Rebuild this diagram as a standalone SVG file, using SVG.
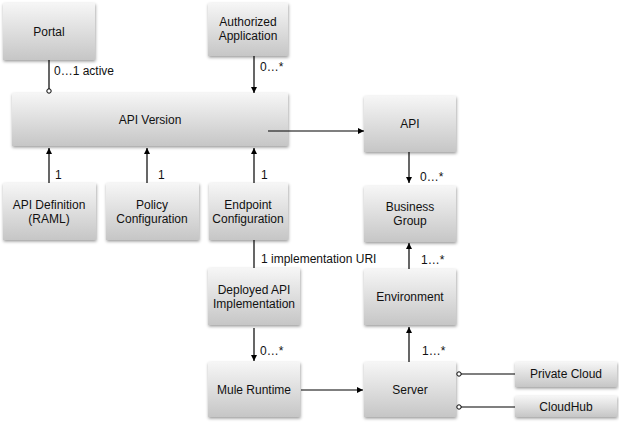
<svg xmlns="http://www.w3.org/2000/svg" width="619" height="429" viewBox="0 0 619 429">
<style>
.box{fill:url(#g);filter:url(#sh)}
.t{font-family:"Liberation Sans",Arial,sans-serif;font-size:12px;fill:#111;text-anchor:middle}
.l{font-family:"Liberation Sans",Arial,sans-serif;font-size:12px;fill:#111}
.c{stroke:#000;stroke-width:1.2;fill:none}
.ar{marker-end:url(#a)}
.ci{fill:#fff;stroke:#000;stroke-width:1}
</style>
<defs>
<linearGradient id="g" x1="0" y1="0" x2="0" y2="1">
<stop offset="0" stop-color="#f6f6f6"/>
<stop offset="1" stop-color="#c6c6c6"/>
</linearGradient>
<filter id="sh" x="-10%" y="-10%" width="125%" height="130%">
<feDropShadow dx="0.5" dy="1.5" stdDeviation="1.5" flood-color="#000" flood-opacity="0.4"/>
</filter>
<marker id="a" viewBox="0 0 8 8" refX="8" refY="4" markerWidth="6" markerHeight="6" markerUnits="userSpaceOnUse" orient="auto">
<path d="M0,0 L8,4 L0,8 z" fill="#000"/>
</marker>
</defs>
<g id="portal"><rect class="box" x="3" y="3" width="92" height="57"/><text class="t" x="49" y="36">Portal</text></g>
<g id="authorized-application"><rect class="box" x="208" y="3" width="80" height="53"/><text class="t" x="248" y="26">Authorized</text><text class="t" x="248" y="40">Application</text></g>
<g id="api-version"><rect class="box" x="12" y="93" width="276" height="53"/><text class="t" x="150" y="124">API Version</text></g>
<g id="api"><rect class="box" x="364" y="96" width="92" height="56"/><text class="t" x="410" y="128">API</text></g>
<g id="api-definition"><rect class="box" x="3" y="183" width="93" height="57"/><text class="t" x="49" y="209">API Definition</text><text class="t" x="49" y="223">(RAML)</text></g>
<g id="policy-configuration"><rect class="box" x="106" y="183" width="93" height="57"/><text class="t" x="152" y="209">Policy</text><text class="t" x="152" y="223">Configuration</text></g>
<g id="endpoint-configuration"><rect class="box" x="209" y="183" width="79" height="57"/><text class="t" x="248" y="209">Endpoint</text><text class="t" x="248" y="223">Configuration</text></g>
<g id="business-group"><rect class="box" x="364" y="186" width="92" height="56"/><text class="t" x="410" y="211">Business</text><text class="t" x="410" y="225">Group</text></g>
<g id="deployed-api-implementation"><rect class="box" x="208" y="268" width="92" height="57"/><text class="t" x="254" y="294">Deployed API</text><text class="t" x="254" y="308">Implementation</text></g>
<g id="environment"><rect class="box" x="364" y="269" width="92" height="56"/><text class="t" x="410" y="301">Environment</text></g>
<g id="mule-runtime"><rect class="box" x="208" y="362" width="92" height="55"/><text class="t" x="254" y="394">Mule Runtime</text></g>
<g id="server"><rect class="box" x="364" y="362" width="92" height="55"/><text class="t" x="410" y="394">Server</text></g>
<g id="private-cloud"><rect class="box" x="515" y="362" width="102" height="25"/><text class="t" x="566" y="378">Private Cloud</text></g>
<g id="cloudhub"><rect class="box" x="515" y="396" width="102" height="21"/><text class="t" x="566" y="411">CloudHub</text></g>
<g id="connectors">
<path class="c" d="M49,60 V89"/><circle class="ci" cx="49" cy="91" r="2.2"/>
<text class="l" x="54" y="75">0…1 active</text>
<path class="c ar" d="M254,56 V93"/>
<text class="l" x="260" y="71">0…*</text>
<path class="c ar" d="M268,131 H364"/>
<path class="c ar" d="M49,183 V148"/>
<text class="l" x="55" y="179">1</text>
<path class="c ar" d="M147,183 V148"/>
<text class="l" x="158" y="179">1</text>
<path class="c ar" d="M254,183 V148"/>
<text class="l" x="261" y="179">1</text>
<path class="c ar" d="M409,152 V183"/>
<text class="l" x="420" y="181">0…*</text>
<path class="c" d="M254,240 V268"/>
<text class="l" x="261" y="263">1 implementation URI</text>
<path class="c ar" d="M409,269 V243"/>
<text class="l" x="421" y="264">1…*</text>
<path class="c ar" d="M254,328 V361"/>
<text class="l" x="260" y="355">0…*</text>
<path class="c ar" d="M301,390 H363"/>
<path class="c ar" d="M409,362 V327"/>
<text class="l" x="422" y="355">1…*</text>
<path class="c" d="M461,374 H515"/><circle class="ci" cx="459" cy="374" r="2.2"/>
<path class="c" d="M461,407 H515"/><circle class="ci" cx="459" cy="407" r="2.2"/>
</g>
</svg>
